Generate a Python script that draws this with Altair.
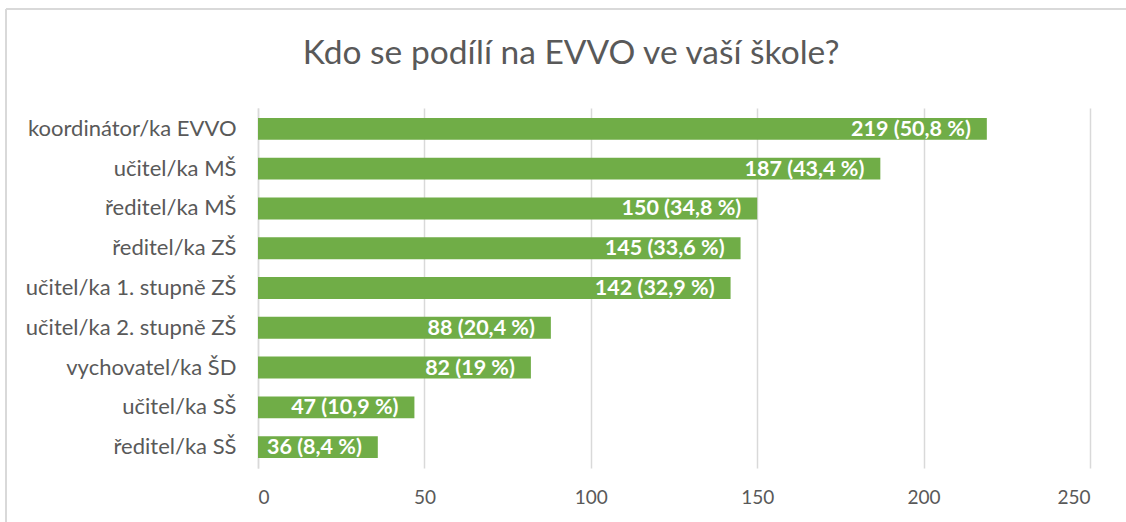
import altair as alt
import pandas as pd

categories = ["koordinátor/ka EVVO", "učitel/ka MŠ", "ředitel/ka MŠ", "ředitel/ka ZŠ",
              "učitel/ka 1. stupně ZŠ", "učitel/ka 2. stupně ZŠ", "vychovatel/ka ŠD",
              "učitel/ka SŠ", "ředitel/ka SŠ"]
counts = [219, 187, 150, 145, 142, 88, 82, 47, 36]
percents = ["50,8", "43,4", "34,8", "33,6", "32,9", "20,4", "19", "10,9", "8,4"]
x_ticks = [0, 50, 100, 150, 200, 250]

df = pd.DataFrame({
    "kat": categories,
    "n": counts,
    "label": [f"{c} ({p} %)" for c, p in zip(counts, percents)],
})

FONT = "Lato"
GREEN = "#70AD47"

base = alt.Chart(df)

bars = base.mark_bar(color=GREEN).encode(
    x=alt.X("n:Q", scale=alt.Scale(domain=[0, 250], nice=False),
            axis=alt.Axis(values=x_ticks, title=None, grid=True, gridColor="#D9D9D9",
                          gridWidth=1.5, domain=False, ticks=False, labelFontSize=19,
                          labelColor="#595959", labelFont=FONT, labelPadding=20)),
    y=alt.Y("kat:N", sort=categories,
            scale=alt.Scale(paddingInner=0.45, paddingOuter=0.25),
            axis=alt.Axis(title=None, ticks=False, domain=True, domainColor="#D9D9D9",
                          domainWidth=1.5, labelFontSize=22, labelColor="#595959",
                          labelFont=FONT, labelPadding=22, labelLimit=300)),
)

labels = base.mark_text(align="right", baseline="middle", dx=-16, dy=1, color="white",
                        fontWeight="bold", fontSize=21.5, font=FONT).encode(
    x="n:Q",
    y=alt.Y("kat:N", sort=categories),
    text="label:N",
)

border_top = alt.Chart(pd.DataFrame({"k": [0]})).mark_rule(
    color="#D9D9D9", strokeWidth=2, clip=False).encode(
    x=alt.value(-252), x2=alt.value(900), y=alt.value(-99),
)
border_left = alt.Chart(pd.DataFrame({"k": [0]})).mark_rule(
    color="#D9D9D9", strokeWidth=2, clip=False).encode(
    x=alt.value(-252), y=alt.value(-99), y2=alt.value(450),
)

chart = alt.layer(border_top, border_left, bars, labels).properties(
    width=832, height=360,
    title=alt.TitleParams("Kdo se podílí na EVVO ve vaší škole?", fontSize=33.5,
                          font=FONT, fontWeight="normal", color="#595959",
                          anchor="middle", frame="group", dx=-103, offset=-63),
    autosize=alt.AutoSizeParams(type="none"),
    padding={"left": 258, "top": 108, "right": 36, "bottom": 54},
).configure(background="white").configure_view(
    strokeWidth=0, stroke="transparent"
).configure_axisX(domain=False, ticks=False)

chart.save("out.html", embed_options={"renderer": "svg", "actions": False})
